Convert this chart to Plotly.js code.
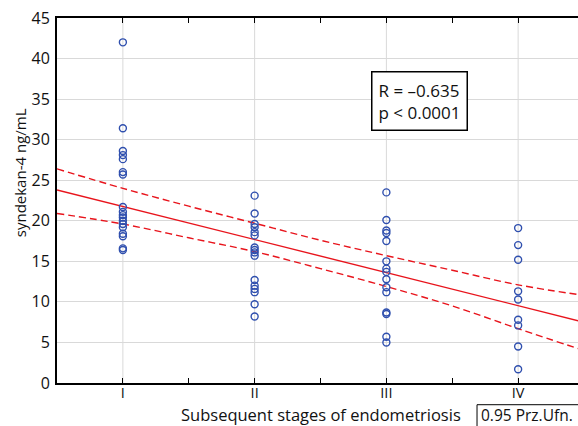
<!DOCTYPE html>
<html>
<head>
<meta charset="utf-8">
<script src="https://cdn.plot.ly/plotly-3.0.1.min.js"></script>
<style>
html,body{margin:0;padding:0;overflow:hidden;background:#fff;width:578px;height:426px;}
#chart{width:584px;height:426px;}
</style>
</head>
<body>
<div id="chart"></div>
<script>
// Categories (stages) and tick labels
const stageTickVals = [1, 1.5, 2, 2.5, 3, 3.5, 4, 4.5];
const stageTickText = ['I', '', 'II', '', 'III', '', 'IV', ''];

// Syndecan-4 values per stage (ng/mL)
const stageI   = [42.0, 31.4, 28.6, 28.1, 27.6, 26.0, 25.7, 21.7, 21.1, 20.7, 20.4, 20.0, 19.6, 19.2, 18.4, 18.1, 16.6, 16.4];
const stageII  = [23.1, 20.9, 19.6, 19.2, 18.6, 18.2, 16.7, 16.4, 16.1, 15.7, 12.7, 12.0, 11.6, 11.2, 9.7, 8.2];
const stageIII = [23.5, 20.1, 18.8, 18.5, 17.5, 15.0, 14.1, 13.7, 12.8, 11.8, 11.2, 8.7, 8.5, 5.7, 5.0];
const stageIV  = [19.1, 17.0, 15.2, 11.3, 10.3, 7.8, 7.1, 4.5, 1.7];

// Regression line and 0.95 confidence band
const fitX   = [0.5, 4.5];
const fitY   = [23.8, 7.5];
const bandX  = [0.5, 1, 1.5, 2, 2.5, 3, 3.5, 4, 4.5];
const bandHi = [26.4, 24.0, 21.8, 19.7, 17.6, 15.7, 13.9, 12.1, 10.8];
const bandLo = [20.9, 19.6, 17.9, 16.2, 14.1, 11.9, 9.5, 6.7, 4.0];

const FONT = '"Open Sans", "Noto Sans", sans-serif';
const RED = '#e8141c';
const BLUE = '#2f4fae';

function pts(stage, vals) {
  return {
    type: 'scatter', mode: 'markers',
    x: vals.map(() => stage), y: vals,
    marker: {symbol: 'circle-open', size: 7, color: BLUE, line: {width: 1.4, color: BLUE}},
    hoverinfo: 'y', showlegend: false, cliponaxis: false
  };
}

const traces = [
  {type: 'scatter', mode: 'lines', x: bandX, y: bandHi, line: {color: RED, width: 1.4, dash: '7px,4px', shape: 'spline'}, showlegend: false},
  {type: 'scatter', mode: 'lines', x: bandX, y: bandLo, line: {color: RED, width: 1.4, dash: '7px,4px', shape: 'spline'}, showlegend: false},
  {type: 'scatter', mode: 'lines', x: fitX, y: fitY, line: {color: RED, width: 1.4}, showlegend: false},
  pts(1, stageI), pts(2, stageII), pts(3, stageIII), pts(4, stageIV)
];

const layout = {
  width: 584, height: 426,
  margin: {l: 57, r: 0, t: 18, b: 43},
  paper_bgcolor: '#fff', plot_bgcolor: '#fff',
  font: {family: FONT, size: 16, color: '#111'},
  xaxis: {
    range: [0.5, 4.5],
    tickvals: stageTickVals, ticktext: stageTickText,
    ticks: 'inside', ticklen: 5, tickwidth: 1, tickcolor: '#000',
    showgrid: false,
    showline: true, linecolor: '#000', linewidth: 2, mirror: 'ticks',
    zeroline: false,
    tickfont: {family: FONT, size: 14.5, color: '#111'},
    ticklabelstandoff: -4
  },
  yaxis: {
    range: [0, 45], dtick: 5,
    ticks: '', showgrid: true, gridcolor: '#d9d9d9', gridwidth: 1,
    showline: true, linecolor: '#000', linewidth: 2, mirror: false,
    zeroline: false,
    tickfont: {family: FONT, size: 16, color: '#111'},
    ticklabelstandoff: 2
  },
  shapes: [1, 2, 3, 4].map(v => ({
    type: 'line', xref: 'x', yref: 'paper', x0: v, x1: v, y0: 0, y1: 1,
    line: {color: '#d9d9d9', width: 1}, layer: 'below'
  })).concat([{
    type: 'rect', xref: 'paper', yref: 'paper',
    x0: 0.797, x1: 1.05, y0: -0.0595, y1: -0.125,
    line: {color: '#000', width: 1}, fillcolor: 'rgba(0,0,0,0)'
  }]),
  annotations: [
    {
      xref: 'paper', yref: 'paper', x: 0.5, y: -0.086, xanchor: 'center', yanchor: 'middle',
      text: 'Subsequent stages of endometriosis', showarrow: false,
      font: {family: FONT, size: 16.5, color: '#111'}
    },
    {
      xref: 'paper', yref: 'paper', x: -0.07, y: 0.575, xanchor: 'center', yanchor: 'middle',
      text: 'syndekan-4 ng/mL', showarrow: false, textangle: -90,
      font: {family: FONT, size: 15, color: '#111'}
    },
    {
      xref: 'x', yref: 'y', x: 3.25, y: 34.8, xanchor: 'center', yanchor: 'middle',
      text: 'R = \u20130.635<br>p < 0.0001', showarrow: false, align: 'left',
      font: {family: FONT, size: 17, color: '#111'},
      bordercolor: '#000', borderwidth: 1.5, borderpad: 6, bgcolor: '#fff'
    },
    {
      xref: 'paper', yref: 'paper', x: 0.801, y: -0.088, xanchor: 'left', yanchor: 'middle',
      text: '0.95 Prz.Ufn.', showarrow: false, align: 'left',
      font: {family: FONT, size: 15.5, color: '#111'}
    }
  ]
};

Plotly.newPlot('chart', traces, layout, {displayModeBar: false, staticPlot: true});
</script>
</body>
</html>
